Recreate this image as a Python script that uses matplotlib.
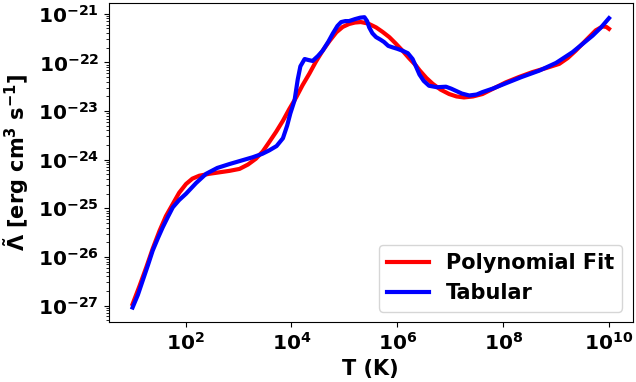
import numpy as np
import matplotlib
matplotlib.use("Agg")
import matplotlib.pyplot as plt
from matplotlib.ticker import NullLocator

# log10 values
fit_logT = [1.00, 1.13, 1.26, 1.38, 1.51, 1.63, 1.76, 1.88, 2.01, 2.13, 2.26, 2.45,
            2.64, 2.83, 3.02, 3.18, 3.33, 3.46, 3.58, 3.71, 3.84, 3.96, 4.09, 4.21,
            4.34, 4.46, 4.59, 4.72, 4.85, 4.97, 5.09, 5.20, 5.31, 5.45, 5.60, 5.72,
            5.85, 5.97, 6.10, 6.22, 6.35, 6.42, 6.55, 6.67, 6.82, 6.98, 7.12, 7.26,
            7.43, 7.61, 7.83, 8.05, 8.30, 8.55, 8.80, 9.06, 9.22, 9.37, 9.55, 9.75,
            9.88, 9.95, 10.00]
fit_logL = [-26.97, -26.60, -26.21, -25.83, -25.46, -25.16, -24.91, -24.68, -24.50,
            -24.39, -24.33, -24.29, -24.26, -24.23, -24.19, -24.10, -23.98, -23.83,
            -23.64, -23.43, -23.20, -22.96, -22.72, -22.47, -22.23, -21.99, -21.76,
            -21.56, -21.38, -21.27, -21.21, -21.18, -21.17, -21.20, -21.28, -21.37,
            -21.48, -21.61, -21.76, -21.91, -22.06, -22.16, -22.32, -22.44, -22.56,
            -22.65, -22.70, -22.72, -22.70, -22.65, -22.53, -22.41, -22.30, -22.20,
            -22.12, -22.03, -21.91, -21.76, -21.56, -21.34, -21.26, -21.27, -21.31]

tab_logT = [1.00, 1.10, 1.19, 1.29, 1.38, 1.48, 1.57, 1.67, 1.76, 1.88, 2.01, 2.20,
            2.39, 2.60, 2.83, 3.05, 3.27, 3.45, 3.58, 3.72, 3.84, 3.92, 3.98, 4.06,
            4.12, 4.17, 4.25, 4.32, 4.40, 4.50, 4.59, 4.70, 4.78, 4.87, 4.94, 5.02,
            5.09, 5.20, 5.30, 5.38, 5.43, 5.47, 5.53, 5.60, 5.68, 5.75, 5.83, 5.91,
            6.00, 6.10, 6.20, 6.29, 6.36, 6.42, 6.50, 6.60, 6.75, 6.92, 7.02, 7.10,
            7.22, 7.36, 7.50, 7.61, 7.80, 8.05, 8.35, 8.68, 9.00, 9.31, 9.50, 9.69,
            9.85, 10.00]
tab_logL = [-27.04, -26.78, -26.49, -26.17, -25.87, -25.61, -25.39, -25.17, -24.98,
            -24.83, -24.70, -24.48, -24.29, -24.17, -24.09, -24.02, -23.95, -23.88,
            -23.81, -23.72, -23.56, -23.30, -23.05, -22.78, -22.35, -22.08, -21.93,
            -21.95, -21.97, -21.87, -21.76, -21.57, -21.41, -21.25, -21.17, -21.15,
            -21.15, -21.11, -21.08, -21.07, -21.15, -21.28, -21.40, -21.48, -21.53,
            -21.58, -21.66, -21.69, -21.72, -21.76, -21.81, -21.93, -22.10, -22.25,
            -22.38, -22.48, -22.51, -22.50, -22.54, -22.58, -22.64, -22.68, -22.66,
            -22.61, -22.54, -22.43, -22.30, -22.17, -22.01, -21.79, -21.62, -21.45,
            -21.28, -21.09]

plt.rcParams['font.weight'] = 'bold'
plt.rcParams['mathtext.default'] = 'bf'

fig, ax = plt.subplots(figsize=(6.36, 3.82), dpi=100)
fig.subplots_adjust(left=0.171, right=0.995, top=0.993, bottom=0.157)

ax.plot(10.0 ** np.array(fit_logT), 10.0 ** np.array(fit_logL), color='red', lw=3,
        label='Polynomial Fit')
ax.plot(10.0 ** np.array(tab_logT), 10.0 ** np.array(tab_logL), color='blue', lw=3,
        label='Tabular')

ax.set_xscale('log')
ax.set_yscale('log')
ax.xaxis.set_minor_locator(NullLocator())
ax.set_xlabel('T (K)', fontsize=15, fontweight='bold')
ax.set_ylabel(r'$\tilde{\Lambda}$ [erg cm$^3$ s$^{-1}$]', fontsize=15, fontweight='bold')
ax.yaxis.set_label_coords(-0.148, 0.5)
ax.tick_params(labelsize=14.5)
ax.legend(loc='lower right', fontsize=15)

fig.savefig('out.png', dpi=100)
